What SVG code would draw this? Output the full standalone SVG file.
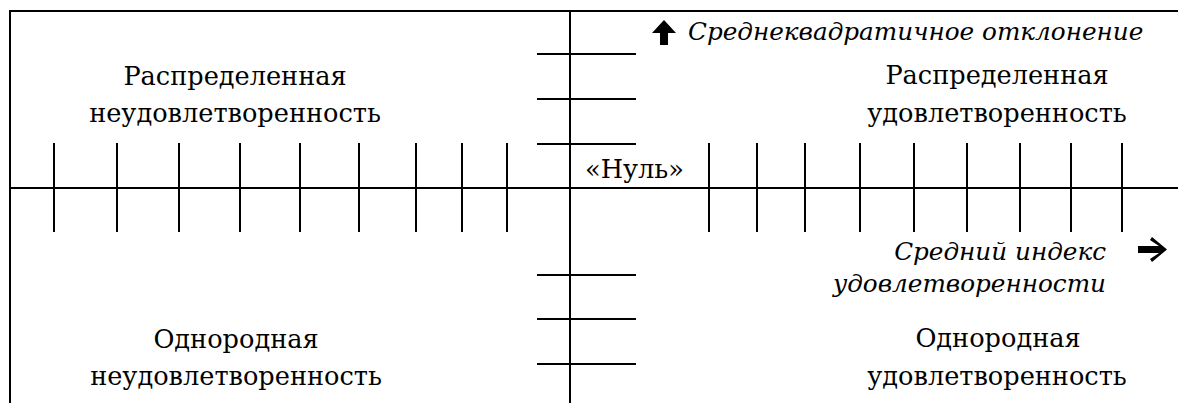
<svg xmlns="http://www.w3.org/2000/svg" width="1178" height="403" viewBox="0 0 1178 403">
<style>
.ln{stroke:#000;stroke-width:2;fill:none}
.c{text-anchor:middle}
.e{text-anchor:end}
.i{font-style:italic;font-size:24.7px}
</style>
<rect width="1178" height="403" fill="#fff"/>
<g id="frame">
<path class="ln" d="M10,403V11H1178"/>
</g>
<g id="connectors">
<path class="ln" d="M10,188H1178M570,11V403"/>
<path class="ln" d="M54,143V232M117,143V232M179,143V232M240,143V232M300,143V232M359,143V232M416,143V232M462,143V232M507,143V232M709,143V232M757,143V232M805,143V232M860,143V232M914,143V232M967,143V232M1020,143V232M1071,143V232M1122,143V232"/>
<path class="ln" d="M537,54H636M537,99H636M537,144H636M537,275H636M537,319H636M537,364H636"/>
</g>
<g font-family="DejaVu Serif, serif" font-size="25.6" fill="#000">
<g id="q1">
<text class="c" x="235" y="85">Распределенная</text>
<text class="c" x="235" y="122">неудовлетворенность</text>
</g>
<g id="q2">
<text class="c" x="997" y="84">Распределенная</text>
<text class="c" x="997" y="122">удовлетворенность</text>
</g>
<g id="q3">
<text class="c" x="236" y="348">Однородная</text>
<text class="c" x="236" y="385">неудовлетворенность</text>
</g>
<g id="q4">
<text class="c" x="998" y="347">Однородная</text>
<text class="c" x="997" y="385">удовлетворенность</text>
</g>
<g id="zero">
<text x="585" y="178">«Нуль»</text>
</g>
<g id="yaxis-label">
<path d="M664,20L676,33H668V45H660V33H652Z"/>
<text class="i" x="688" y="40">Среднеквадратичное отклонение</text>
</g>
<g id="xaxis-label">
<path d="M1152,237L1167,249.5L1152,262L1150,259L1159,253H1138V246H1159L1150,240Z"/>
<text class="i e" x="1106" y="260">Средний индекс</text>
<text class="i e" x="1106" y="292">удовлетворенности</text>
</g>
</g>
</svg>
